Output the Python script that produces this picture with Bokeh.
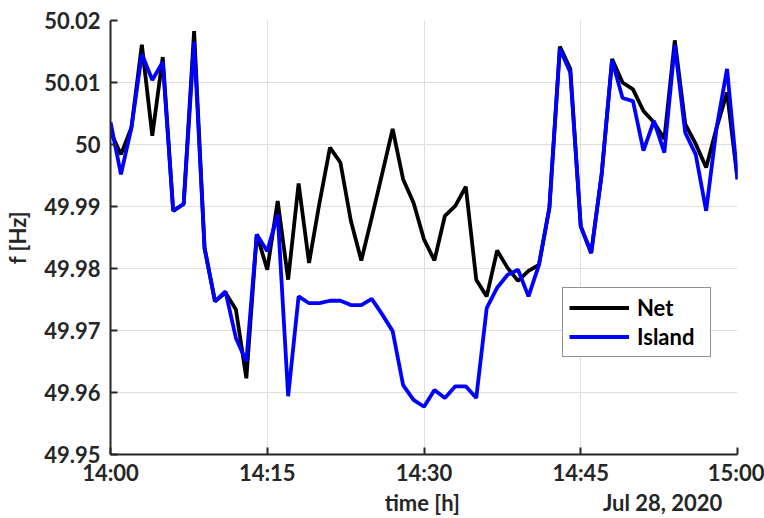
import pandas as pd
from bokeh.plotting import figure
from bokeh.models import (FixedTicker, DatetimeTickFormatter, CustomJSTickFormatter,
                          Legend, LegendItem, Range1d, DatetimeAxis)
from bokeh.embed import file_html
from bokeh.resources import INLINE

# ---- data (one sample per minute, 14:00 .. 15:00, Jul 28 2020) ----
start_time = "2020-07-28 14:00"
n_samples = 61
net = [50.0020, 49.9984, 50.0027, 50.0161, 50.0014, 50.0141, 49.9893, 49.9904, 50.0183, 49.9833,
       49.9747, 49.9761, 49.9734, 49.9623, 49.9855, 49.9798, 49.9909, 49.9782, 49.9937, 49.9809,
       49.9906, 49.9995, 49.9971, 49.9877, 49.9813, 49.9882, 49.9953, 50.0025, 49.9944, 49.9906,
       49.9847, 49.9813, 49.9885, 49.9901, 49.9932, 49.9782, 49.9755, 49.9829, 49.9801, 49.9780,
       49.9796, 49.9806, 49.9898, 50.0158, 50.0122, 49.9868, 49.9825, 49.9952, 50.0138, 50.0100,
       50.0089, 50.0054, 50.0036, 50.0009, 50.0168, 50.0033, 50.0001, 49.9963, 50.0027, 50.0084,
       49.9944]
island = [50.0036, 49.9952, 50.0027, 50.0146, 50.0104, 50.0133, 49.9893, 49.9904, 50.0165, 49.9833,
          49.9747, 49.9763, 49.9688, 49.9650, 49.9855, 49.9828, 49.9887, 49.9594, 49.9755, 49.9744,
          49.9744, 49.9748, 49.9748, 49.9741, 49.9741, 49.9751, 49.9726, 49.9699, 49.9612, 49.9588,
          49.9577, 49.9604, 49.9591, 49.9610, 49.9610, 49.9591, 49.9736, 49.9769, 49.9790, 49.9798,
          49.9755, 49.9806, 49.9898, 50.0154, 50.0116, 49.9868, 49.9825, 49.9952, 50.0136, 50.0075,
          50.0070, 49.9990, 50.0038, 49.9987, 50.0160, 50.0019, 49.9984, 49.9893, 50.0027, 50.0122,
          49.9944]
x_ticks = ["2020-07-28 14:00", "2020-07-28 14:15", "2020-07-28 14:30",
           "2020-07-28 14:45", "2020-07-28 15:00"]
y_ticks = [49.95, 49.96, 49.97, 49.98, 49.99, 50.00, 50.01, 50.02]
series_names = ["Net", "Island"]
series_colors = ["#000000", "#0000ff"]
x_title = "time [h]"
y_title = "f [Hz]"
date_text = "Jul 28, 2020"
# where the x title and the date stamp sit along the time axis
x_title_at = "2020-07-28 14:29:50"
date_at = "2020-07-28 14:52:50"

times = pd.date_range(start_time, periods=n_samples, freq="1min")
tick_ms = [pd.Timestamp(t).value // 10**6 for t in x_ticks]
title_ms = [pd.Timestamp(x_title_at).value // 10**6, pd.Timestamp(date_at).value // 10**6]

FONT = "Lato"
TXT = "#262626"

p = figure(width=764, height=518, x_axis_type="datetime",
           output_backend="svg", toolbar_location=None,
           x_range=Range1d(pd.Timestamp(x_ticks[0]), pd.Timestamp(x_ticks[-1])),
           y_range=Range1d(y_ticks[0], y_ticks[-1]),
           min_border_left=110, min_border_right=27, min_border_top=20, min_border_bottom=64)
p.outline_line_color = None
p.background_fill_color = "white"
p.border_fill_color = "white"

r_net = p.line(times, net, line_color=series_colors[0], line_width=3.8)
r_isl = p.line(times, island, line_color=series_colors[1], line_width=3.8)

# axes
p.xaxis.ticker = FixedTicker(ticks=tick_ms)
p.xaxis.formatter = DatetimeTickFormatter(minutes="%H:%M", hours="%H:%M", hourmin="%H:%M", days="%H:%M")
p.yaxis.ticker = FixedTicker(ticks=y_ticks)
p.yaxis.formatter = CustomJSTickFormatter(code="return Number(tick.toFixed(2)).toString();")

for ax in (p.xaxis, p.yaxis):
    ax.axis_line_color = TXT
    ax.axis_line_width = 2
    ax.major_tick_line_color = TXT
    ax.major_tick_line_width = 2
    ax.major_tick_in = 7
    ax.major_tick_out = 0
    ax.minor_tick_line_color = None
    ax.major_label_text_font = FONT
    ax.major_label_text_font_style = "bold"
    ax.major_label_text_font_size = "22px"
    ax.major_label_text_color = TXT
    ax.axis_label_text_font = FONT
    ax.axis_label_text_font_style = "bold"
    ax.axis_label_text_font_size = "22px"
    ax.axis_label_text_color = TXT

p.yaxis.axis_label = y_title
p.xaxis.major_label_standoff = 4
p.yaxis.major_label_standoff = 10
p.yaxis.axis_label_standoff = 10

# second row under the time axis: x title (centred) and the date stamp (right)
title_axis = DatetimeAxis(
    ticker=FixedTicker(ticks=title_ms),
    formatter=CustomJSTickFormatter(args=dict(a=x_title, b=date_text, split=title_ms[1]),
                                    code="return tick < split ? a : b;"),
    axis_line_color=None, major_tick_line_color=None, minor_tick_line_color=None,
    major_tick_in=0, major_tick_out=0, major_label_standoff=0,
    major_label_text_font=FONT, major_label_text_font_style="bold",
    major_label_text_font_size="22px", major_label_text_color=TXT)
p.add_layout(title_axis, "below")

p.grid.grid_line_color = "#dedede"
p.grid.grid_line_width = 1

legend = Legend(items=[LegendItem(label=series_names[0], renderers=[r_net]),
                       LegendItem(label=series_names[1], renderers=[r_isl])],
                location=(452, 97), margin=0, padding=6, spacing=2,
                glyph_width=60, glyph_height=27, label_height=27, label_width=67,
                label_standoff=8,
                label_text_font=FONT, label_text_font_style="bold",
                label_text_font_size="22px", label_text_color="#000000",
                border_line_color="#262626", border_line_width=1,
                background_fill_color="white", background_fill_alpha=1)
p.add_layout(legend)

open("out.html", "w").write(file_html(p, INLINE))
